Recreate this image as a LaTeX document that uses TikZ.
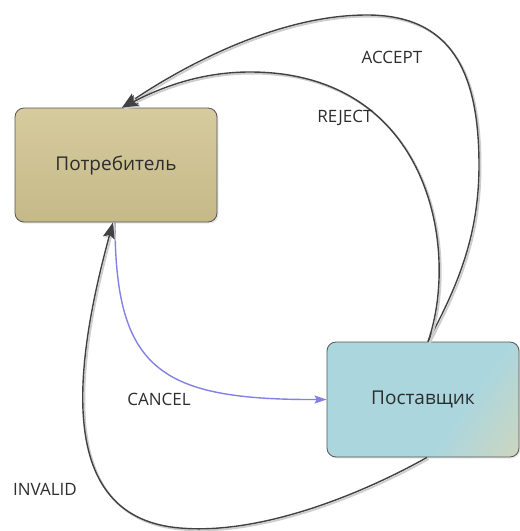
\documentclass[tikz,border=0pt]{standalone}
\usepackage{fontspec}
\setmainfont{Open Sans}
\usetikzlibrary{arrows.meta,shadows,calc}
\definecolor{tanA}{RGB}{214,203,158}
\definecolor{tanB}{RGB}{197,185,136}
\definecolor{bluA}{RGB}{172,214,222}
\definecolor{bluB}{RGB}{226,214,170}
\definecolor{edgec}{RGB}{65,65,65}
\definecolor{boxedge}{RGB}{85,85,85}
\definecolor{cancelc}{RGB}{130,130,228}
\definecolor{txt}{RGB}{45,45,45}
\definecolor{shadowc}{RGB}{205,205,205}
\pgfdeclarehorizontalshading{provshade}{100bp}{color(0bp)=(bluA); color(62bp)=(bluA); color(100bp)=(bluB)}
\begin{document}
\begin{tikzpicture}[x=1pt,y=-1pt,
  box/.style={draw=boxedge, line width=0.8pt, rounded corners=9pt, inner sep=0pt,
    text=txt, font=\fontsize{19}{22}\selectfont,
    drop shadow={opacity=0.18, shadow xshift=1.5pt, shadow yshift=-1.5pt}},
  conn/.style={draw=edgec, line width=1.4pt,
    preaction={draw=shadowc, line width=1.8pt, transform canvas={shift={(1.6pt,-1.6pt)}}}},
  bigtip/.style={-{Stealth[length=16pt,width=12pt,inset=3pt]}},
  lbl/.style={text=txt, font=\fontsize{17}{20}\selectfont, inner sep=0pt}]
\useasboundingbox (0,0) rectangle (520,531);

\node[box, top color=tanA, bottom color=tanB, minimum width=202pt, minimum height=114pt]
  (cons) at (116,165) {Потребитель};
\node[box, shading=provshade, shading angle=-35,
  minimum width=192pt, minimum height=115pt]
  (prov) at (423,399.5) {Поставщик};

\coordinate (accS) at ($(prov.north)+(5,0)$);
\coordinate (accE) at ($(cons.north)+(6,0)$);
\coordinate (canS) at ($(cons.south)+(-1,0)$);
\coordinate (invS) at ($(prov.south)+(4,0)$);
\coordinate (invE) at ($(cons.south)+(-3,0)$);

% ACCEPT
\draw[conn, bigtip] (accS) .. controls (455,290) and (479,240) .. (479,165)
  .. controls (479,70) and (450,15) .. (367,15)
  .. controls (270,15) and (170,75) .. (accE);
% REJECT
\draw[conn, bigtip] (accS) .. controls (460,250) and (430,72) .. (250,72)
  .. controls (200,72) and (160,88) .. (accE);
% CANCEL
\draw[draw=cancelc, line width=1.4pt, -{Stealth[length=12pt,width=8pt,inset=2pt]}]
  (canS) .. controls (115,370) and (160,400) .. (prov.west);
% INVALID
\draw[conn, bigtip] (invS) .. controls (360,495) and (260,535) .. (180,528)
  .. controls (60,518) and (70,380) .. (invE);

\node[lbl] (lacc) at (392,57) {ACCEPT};
\node[lbl] (lrej) at (345,118) {REJECT};
\node[lbl] (lcan) at (159,399) {CANCEL};
\node[lbl] (linv) at (45,489) {INVALID};
\end{tikzpicture}
\end{document}
